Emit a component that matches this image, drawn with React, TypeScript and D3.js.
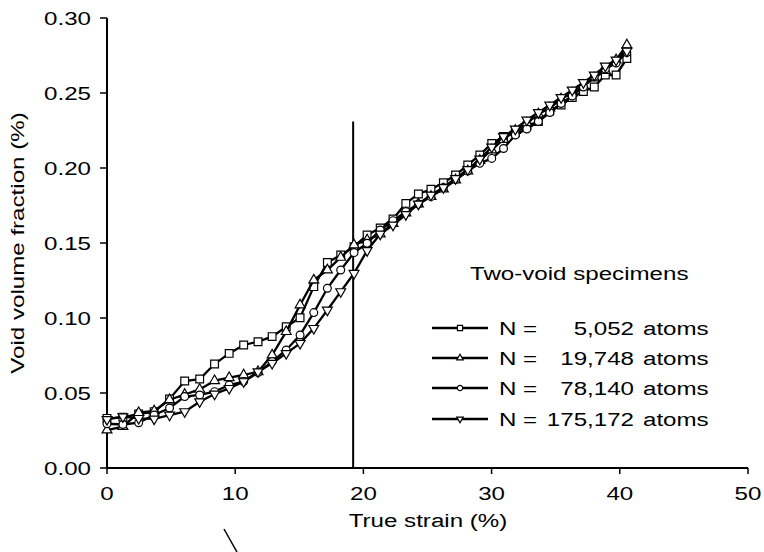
import React from 'react';
import * as d3 from 'd3';

// True strain (%) at each sample
const strain = [0, 1.24, 2.47, 3.68, 4.88, 6.06, 7.23, 8.39, 9.53, 10.66, 11.78, 12.88, 13.98, 15.06, 16.13, 17.19, 18.23, 19.27, 20.29, 21.31, 22.31, 23.31, 24.29, 25.27, 26.24, 27.19, 28.14, 29.08, 30.01, 30.93, 31.85, 32.75, 33.65, 34.54, 35.42, 36.29, 37.16, 38.01, 38.87, 39.71, 40.55];

const n5052 = [0.0331, 0.0338, 0.036, 0.0376, 0.046, 0.058, 0.0593, 0.0693, 0.0764, 0.082, 0.0842, 0.0876, 0.0942, 0.1002, 0.1209, 0.137, 0.142, 0.1476, 0.1553, 0.160, 0.166, 0.1764, 0.1827, 0.1858, 0.1902, 0.1953, 0.202, 0.2087, 0.2164, 0.221, 0.2235, 0.228, 0.231, 0.238, 0.242, 0.247, 0.251, 0.254, 0.262, 0.262, 0.273];
const n19748 = [0.0253, 0.0276, 0.0369, 0.038, 0.0455, 0.049, 0.0524, 0.0582, 0.0602, 0.062, 0.0642, 0.0753, 0.0909, 0.1087, 0.1253, 0.132, 0.1404, 0.1487, 0.152, 0.156, 0.163, 0.170, 0.176, 0.181, 0.186, 0.192, 0.198, 0.205, 0.212, 0.219, 0.225, 0.230, 0.236, 0.240, 0.246, 0.250, 0.255, 0.260, 0.265, 0.272, 0.282];
const n78140 = [0.0295, 0.029, 0.0302, 0.0353, 0.040, 0.0476, 0.0487, 0.0509, 0.0553, 0.0576, 0.0636, 0.0709, 0.0787, 0.0887, 0.1036, 0.1198, 0.132, 0.1436, 0.1498, 0.1587, 0.1649, 0.1709, 0.176, 0.1809, 0.187, 0.1924, 0.198, 0.2031, 0.2064, 0.213, 0.222, 0.226, 0.231, 0.237, 0.243, 0.248, 0.254, 0.261, 0.266, 0.270, 0.277];
const n175172 = [0.0324, 0.0342, 0.0331, 0.0327, 0.0353, 0.0376, 0.0442, 0.0493, 0.0531, 0.0576, 0.0642, 0.0698, 0.0764, 0.0831, 0.0931, 0.1053, 0.1176, 0.1298, 0.145, 0.156, 0.162, 0.169, 0.176, 0.182, 0.187, 0.193, 0.199, 0.206, 0.214, 0.221, 0.226, 0.232, 0.237, 0.242, 0.247, 0.252, 0.257, 0.262, 0.268, 0.272, 0.278];

const seriesNumbers = ['5,052', '19,748', '78,140', '175,172'];
const seriesMarkers = ['square', 'triangle', 'circle', 'triangleDown'];
const seriesValues = [n5052, n19748, n78140, n175172];

const xTicks = [0, 10, 20, 30, 40, 50];
const yTicks = [0, 0.05, 0.1, 0.15, 0.2, 0.25, 0.3];
const yTickLabels = ['0.00', '0.05', '0.10', '0.15', '0.20', '0.25', '0.30'];

const markerStrain = 19.2;
const markerTop = 0.231;

const legendTitle = 'Two-void specimens';
const xTitle = 'True strain (%)';
const yTitle = 'Void volume fraction (%)';

const FONT = "'Liberation Sans', Arial, Helvetica, sans-serif";
const FS = 19;
const SX = 1.27;

function symbolPath(kind: string, size: number) {
  const type = kind === 'square' ? d3.symbolSquare : kind === 'circle' ? d3.symbolCircle : d3.symbolTriangle;
  return d3.symbol().type(type).size(size)() as string;
}

function Marker({ kind, x, y, size }: { kind: string; x: number; y: number; size: number }) {
  const rot = kind === 'triangleDown' ? 180 : 0;
  return (
    <path
      d={symbolPath(kind, size)}
      transform={`translate(${x},${y}) rotate(${rot})`}
      fill="#fff"
      stroke="#000"
      strokeWidth={1.2}
    />
  );
}

function Txt({ x, y, anchor = 'start', rotate = 0, children }: any) {
  return (
    <g transform={`translate(${x},${y}) rotate(${rotate}) scale(${SX},1)`}>
      <text textAnchor={anchor} fontSize={FS} fontFamily={FONT} fill="#000">
        {children}
      </text>
    </g>
  );
}

export default function App() {
  const x = d3.scaleLinear().domain([0, 50]).range([107, 748]);
  const y = d3.scaleLinear().domain([0, 0.3]).range([468, 18]);
  const line = d3
    .line<number>()
    .x((_, i) => x(strain[i]))
    .y((d) => y(d));

  const markerSize: Record<string, number> = { square: 60, triangle: 42, circle: 48, triangleDown: 42 };
  const legendSize: Record<string, number> = { square: 26, triangle: 18, circle: 22, triangleDown: 18 };

  const legendRows = [328, 358, 388, 419];

  return (
    <svg width={764} height={552} style={{ position: 'absolute', left: 0, top: 0, background: '#fff' }}>
      <rect x={0} y={0} width={764} height={552} fill="#fff" />
      {/* axes */}
      <line x1={x(0)} x2={x(0)} y1={y(0.3)} y2={y(0)} stroke="#000" strokeWidth={2} />
      <line x1={x(0)} x2={x(50)} y1={y(0)} y2={y(0)} stroke="#000" strokeWidth={2} />
      {yTicks.map((t, i) => (
        <g key={'yt' + i}>
          <line x1={x(0) - 7} x2={x(0)} y1={y(t)} y2={y(t)} stroke="#000" strokeWidth={1.5} />
          <Txt x={x(0) - 16} y={y(t) + 7} anchor="end">
            {yTickLabels[i]}
          </Txt>
        </g>
      ))}
      {xTicks.map((t) => (
        <g key={'xt' + t}>
          <line x1={x(t)} x2={x(t)} y1={y(0)} y2={y(0) + 6} stroke="#000" strokeWidth={1.5} />
          <Txt x={x(t)} y={y(0) + 32} anchor="middle">
            {String(t)}
          </Txt>
        </g>
      ))}
      <Txt x={428} y={527} anchor="middle">
        {xTitle}
      </Txt>
      <Txt x={24} y={243} anchor="middle" rotate={-90}>
        {yTitle}
      </Txt>

      {/* vertical marker line */}
      <line x1={x(markerStrain)} x2={x(markerStrain)} y1={y(markerTop)} y2={y(0)} stroke="#000" strokeWidth={2} />

      {/* series */}
      {seriesValues.map((vals, si) => (
        <g key={'s' + si}>
          <path d={line(vals) as string} fill="none" stroke="#000" strokeWidth={2.3} />
          {vals.map((v, i) => (
            <Marker key={i} kind={seriesMarkers[si]} x={x(strain[i])} y={y(v)} size={markerSize[seriesMarkers[si]]} />
          ))}
        </g>
      ))}

      {/* legend */}
      <Txt x={470} y={280}>
        {legendTitle}
      </Txt>
      {seriesNumbers.map((n, i) => (
        <g key={'lg' + i}>
          <line x1={432} x2={488} y1={legendRows[i]} y2={legendRows[i]} stroke="#000" strokeWidth={2.3} />
          <Marker kind={seriesMarkers[i]} x={460} y={legendRows[i]} size={legendSize[seriesMarkers[i]]} />
          <Txt x={499} y={legendRows[i] + 7}>
            N =
          </Txt>
          <Txt x={634} y={legendRows[i] + 7} anchor="end">
            {n}
          </Txt>
          <Txt x={643} y={legendRows[i] + 7}>
            atoms
          </Txt>
        </g>
      ))}

      {/* stray stroke below axis */}
      <line x1={224} y1={529} x2={237} y2={552} stroke="#000" strokeWidth={1.5} />
    </svg>
  );
}
